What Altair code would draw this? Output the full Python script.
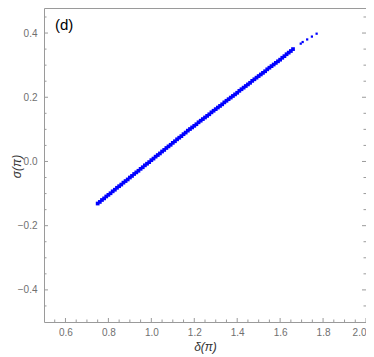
import altair as alt
import pandas as pd

# dense band of points (delta in units of pi, sigma in units of pi)
delta_dense = [0.75, 0.76, 0.77, 0.78, 0.79, 0.80, 0.81, 0.82, 0.83, 0.84,
               0.85, 0.86, 0.87, 0.88, 0.89, 0.90, 0.91, 0.92, 0.93, 0.94,
               0.95, 0.96, 0.97, 0.98, 0.99, 1.00, 1.01, 1.02, 1.03, 1.04,
               1.05, 1.06, 1.07, 1.08, 1.09, 1.10, 1.11, 1.12, 1.13, 1.14,
               1.15, 1.16, 1.17, 1.18, 1.19, 1.20, 1.21, 1.22, 1.23, 1.24,
               1.25, 1.26, 1.27, 1.28, 1.29, 1.30, 1.31, 1.32, 1.33, 1.34,
               1.35, 1.36, 1.37, 1.38, 1.39, 1.40, 1.41, 1.42, 1.43, 1.44,
               1.45, 1.46, 1.47, 1.48, 1.49, 1.50, 1.51, 1.52, 1.53, 1.54,
               1.55, 1.56, 1.57, 1.58, 1.59, 1.60, 1.61, 1.62, 1.63, 1.64,
               1.65, 1.66]
sigma_dense = [-0.131, -0.126, -0.120, -0.115, -0.109, -0.104, -0.099, -0.093, -0.088, -0.082,
               -0.077, -0.072, -0.066, -0.061, -0.056, -0.050, -0.045, -0.039, -0.034, -0.029,
               -0.023, -0.018, -0.012, -0.007, -0.002, 0.004, 0.009, 0.015, 0.020, 0.025,
               0.031, 0.036, 0.042, 0.047, 0.052, 0.058, 0.063, 0.069, 0.074, 0.079,
               0.085, 0.090, 0.096, 0.101, 0.106, 0.111, 0.116, 0.122, 0.127, 0.132,
               0.137, 0.142, 0.147, 0.153, 0.158, 0.163, 0.168, 0.173, 0.178, 0.184,
               0.189, 0.194, 0.199, 0.204, 0.209, 0.214, 0.220, 0.225, 0.230, 0.235,
               0.240, 0.245, 0.251, 0.256, 0.261, 0.266, 0.271, 0.276, 0.281, 0.287,
               0.292, 0.297, 0.302, 0.307, 0.312, 0.317, 0.323, 0.328, 0.334, 0.339,
               0.344, 0.350]

# sparse points at the upper end
delta_sparse = [1.696, 1.705, 1.726, 1.748, 1.770]
sigma_sparse = [0.367, 0.372, 0.380, 0.389, 0.398]

x_major = [0.6, 0.8, 1.0, 1.2, 1.4, 1.6, 1.8, 2.0]
x_minor = [0.55, 0.65, 0.7, 0.75, 0.85, 0.9, 0.95, 1.05, 1.1, 1.15, 1.25, 1.3, 1.35,
           1.45, 1.5, 1.55, 1.65, 1.7, 1.75, 1.85, 1.9, 1.95]
y_major = [-0.4, -0.2, 0.0, 0.2, 0.4]
y_minor = [-0.45, -0.35, -0.3, -0.25, -0.15, -0.1, -0.05, 0.05, 0.1, 0.15,
           0.25, 0.3, 0.35, 0.45]

W, H = 322, 314
XDOM = [0.5, 2.0]
YDOM = [-0.5, 0.478]
BLUE = "#0000ff"
FRAME = "#9a9a9a"

xs = alt.Scale(domain=XDOM, nice=False, zero=False)
ys = alt.Scale(domain=YDOM, nice=False, zero=False)

dense = pd.DataFrame({"d": delta_dense, "s": sigma_dense})
sparse = pd.DataFrame({"d": delta_sparse, "s": sigma_sparse})

x_axis = alt.Axis(values=x_major, format=".1f", ticks=False, domain=False, grid=False,
                  labelColor="#707070", labelFont="Liberation Sans", labelFontSize=10,
                  labelPadding=5, labelFlush=True, title="δ(π)", titleFont="Liberation Sans",
                  titleFontSize=12, titleFontWeight="normal", titleFontStyle="italic",
                  titleColor="#333333", titlePadding=4)
y_axis = alt.Axis(values=y_major, format=".1f", ticks=False, domain=False, grid=False,
                  labelColor="#707070", labelFont="Liberation Sans", labelFontSize=10,
                  labelPadding=7, title="σ(π)", titleFont="Liberation Sans",
                  titleFontSize=12, titleFontWeight="normal", titleFontStyle="italic",
                  titleColor="#333333", titleX=-28, titleY=H / 2 + 1,
                  titleAlign="center", titleBaseline="middle", titleAngle=270)

pts = alt.Chart(dense).mark_square(size=14, color=BLUE, opacity=1).encode(
    x=alt.X("d:Q", scale=xs, axis=x_axis),
    y=alt.Y("s:Q", scale=ys, axis=y_axis),
)
pts2 = alt.Chart(sparse).mark_square(size=5, color=BLUE, opacity=1).encode(
    x=alt.X("d:Q", scale=xs),
    y=alt.Y("s:Q", scale=ys),
)

xmaj = pd.DataFrame({"v": x_major})
xmin = pd.DataFrame({"v": x_minor})
ymaj = pd.DataFrame({"v": y_major})
ymin = pd.DataFrame({"v": y_minor})


def xticks(df, length):
    bottom = alt.Chart(df).mark_rule(color=FRAME, strokeWidth=1).encode(
        x=alt.X("v:Q", scale=xs), y=alt.value(H), y2=alt.value(H - length))
    return [bottom]


def yticks(df, length):
    left = alt.Chart(df).mark_rule(color=FRAME, strokeWidth=1).encode(
        y=alt.Y("v:Q", scale=ys), x=alt.value(0), x2=alt.value(length))
    right = alt.Chart(df).mark_rule(color=FRAME, strokeWidth=1).encode(
        y=alt.Y("v:Q", scale=ys), x=alt.value(W), x2=alt.value(W - length))
    return [left, right]


label = alt.Chart(pd.DataFrame({"t": ["(d)"]})).mark_text(
    align="left", baseline="middle", fontSize=15, font="Liberation Sans", color="#000000"
).encode(x=alt.value(11), y=alt.value(17), text="t:N")

layers = [pts, pts2] + xticks(xmaj, 4) + xticks(xmin, 2.5) + yticks(ymaj, 4) + yticks(ymin, 2.5) + [label]

chart = alt.layer(*layers).properties(
    width=W, height=H,
    autosize=alt.AutoSizeParams(type="none"),
    padding={"left": 36, "top": 0, "right": 0, "bottom": 33},
).configure_view(stroke=FRAME, strokeWidth=1)

chart.save("out.html", embed_options={"renderer": "svg", "actions": False})
